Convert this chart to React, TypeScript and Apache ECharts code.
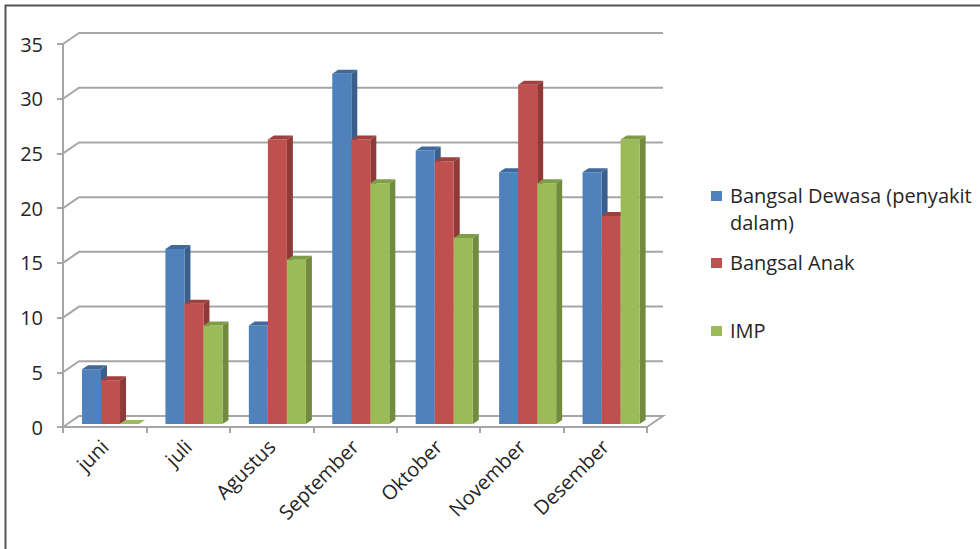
import React, { useEffect, useRef } from "react";
import * as echarts from "echarts";

const categories = ["juni", "juli", "Agustus", "September", "Oktober", "November", "Desember"];
const seriesNames = ["Bangsal Dewasa (penyakit\ndalam)", "Bangsal Anak", "IMP"];
const dewasa = [5, 16, 9, 32, 25, 23, 23];
const anak = [4, 11, 26, 26, 24, 31, 19];
const imp = [0, 9, 15, 22, 17, 22, 26];
const yTicks = [0, 5, 10, 15, 20, 25, 30, 35];

const FONT = "'Open Sans', 'DejaVu Sans', sans-serif";
const frontColors = ["#4f81bd", "#c0504d", "#9bbb59"];
const sideColors = ["#3a5f8c", "#8f3a38", "#718b3f"];
const topColors = ["#41699b", "#a0403e", "#7f9c46"];

// 3D geometry
const WALL_DX = 16;
const WALL_DY = 11;
const BAR_OFF_X = 5.8;
const BAR_OFF_Y = 3;
const BAR_DX = 6;
const BAR_DY = 4;
const BAR_FRAC = 0.228;

function barRenderer(s: number) {
  return (params: any, api: any) => {
    const idx = api.value(0);
    const val = api.value(1);
    const base = api.coord([idx, 0]);
    const top = api.coord([idx, val]);
    const band = api.size([1, 0])[0];
    const w = band * BAR_FRAC;
    const x0 = base[0] - 1.5 * w + BAR_OFF_X + s * w;
    const x1 = x0 + w;
    const yb = base[1] - BAR_OFF_Y;
    const yt = top[1] - BAR_OFF_Y;
    const children: any[] = [];
    if (yb - yt > 0.1) {
      children.push({
        type: "polygon",
        shape: { points: [[x1, yt], [x1 + BAR_DX, yt - BAR_DY], [x1 + BAR_DX, yb - BAR_DY], [x1, yb]] },
        style: { fill: sideColors[s] },
      });
      children.push({
        type: "rect",
        shape: { x: x0, y: yt, width: w, height: yb - yt },
        style: { fill: frontColors[s] },
      });
    }
    children.push({
      type: "polygon",
      shape: { points: [[x0, yt], [x0 + BAR_DX, yt - BAR_DY], [x1 + BAR_DX, yt - BAR_DY], [x1, yt]] },
      style: { fill: val === 0 ? frontColors[s] : topColors[s] },
    });
    return { type: "group", children };
  };
}

function gridRenderer(params: any, api: any) {
  const v = api.value(1);
  const cs = params.coordSys;
  const p = api.coord([0, v]);
  const y = p[1];
  const xl = cs.x;
  const xr = cs.x + cs.width;
  const lineStyle = { stroke: "#a6a6a6", lineWidth: 2, fill: null };
  const pts =
    v === 0
      ? [[xl, y], [xl + WALL_DX, y - WALL_DY], [xr + WALL_DX, y - WALL_DY], [xr, y]]
      : [[xl, y], [xl + WALL_DX, y - WALL_DY], [xr + WALL_DX, y - WALL_DY]];
  return { type: "polyline", shape: { points: pts }, style: lineStyle };
}

export default function App() {
  const ref = useRef<HTMLDivElement>(null);
  useEffect(() => {
    if (!ref.current) return;
    const chart = echarts.init(ref.current, null, { renderer: "svg" });
    const data = [dewasa, anak, imp];
    const legendY = [196, 263, 331];
    const legendGraphics: any[] = [];
    seriesNames.forEach((name, i) => {
      legendGraphics.push({
        type: "rect",
        shape: { x: 711, y: legendY[i] - 5, width: 11, height: 10 },
        style: { fill: frontColors[i] },
      });
      legendGraphics.push({
        type: "text",
        x: 730,
        y: legendY[i] - 14,
        style: {
          text: name,
          font: `20px ${FONT}`,
          fill: "#262626",
          lineHeight: 27,
          verticalAlign: "top",
          align: "left",
        },
      });
    });
    chart.setOption({
      animation: false,
      backgroundColor: "#ffffff",
      grid: {
        left: 63,
        top: 44,
        right: 333,
        bottom: 122,
        containLabel: false,
        outerBoundsMode: "none",
      },
      xAxis: {
        type: "category",
        data: categories,
        axisLine: { show: true, lineStyle: { color: "#a6a6a6", width: 2 } },
        axisTick: { show: true, length: 6, interval: 0, lineStyle: { color: "#a6a6a6", width: 2 } },
        axisLabel: {
          interval: 0,
          rotate: 45,
          margin: 16,
          fontSize: 20,
          fontFamily: FONT,
          color: "#262626",
        },
        splitLine: { show: false },
      },
      yAxis: {
        type: "value",
        min: 0,
        max: 35,
        interval: 5,
        axisLine: { show: true, lineStyle: { color: "#a6a6a6", width: 2 } },
        axisTick: { show: true, length: 6, lineStyle: { color: "#a6a6a6", width: 2 } },
        axisLabel: { margin: 20, fontSize: 20, fontFamily: FONT, color: "#262626" },
        splitLine: { show: false },
      },
      series: [
        {
          type: "custom",
          name: "grid",
          z: 1,
          silent: true,
          renderItem: gridRenderer,
          data: yTicks.map((v) => [0, v]),
          clip: false,
        },
        ...data.map((arr, s) => ({
          type: "custom",
          name: seriesNames[s],
          z: 3 + s,
          renderItem: barRenderer(s),
          data: arr.map((v, i) => [i, v]),
          clip: false,
        })),
      ],
      graphic: [
        {
          type: "rect",
          shape: { x: 5.5, y: 5.5, width: 1000, height: 600 },
          style: { fill: null, stroke: "#555555", lineWidth: 2 },
          silent: true,
        },
        ...legendGraphics,
      ],
    });
    return () => chart.dispose();
  }, []);
  return (
    <div
      ref={ref}
      style={{ position: "fixed", left: 0, top: 0, width: 980, height: 549, background: "#fff" }}
    />
  );
}
